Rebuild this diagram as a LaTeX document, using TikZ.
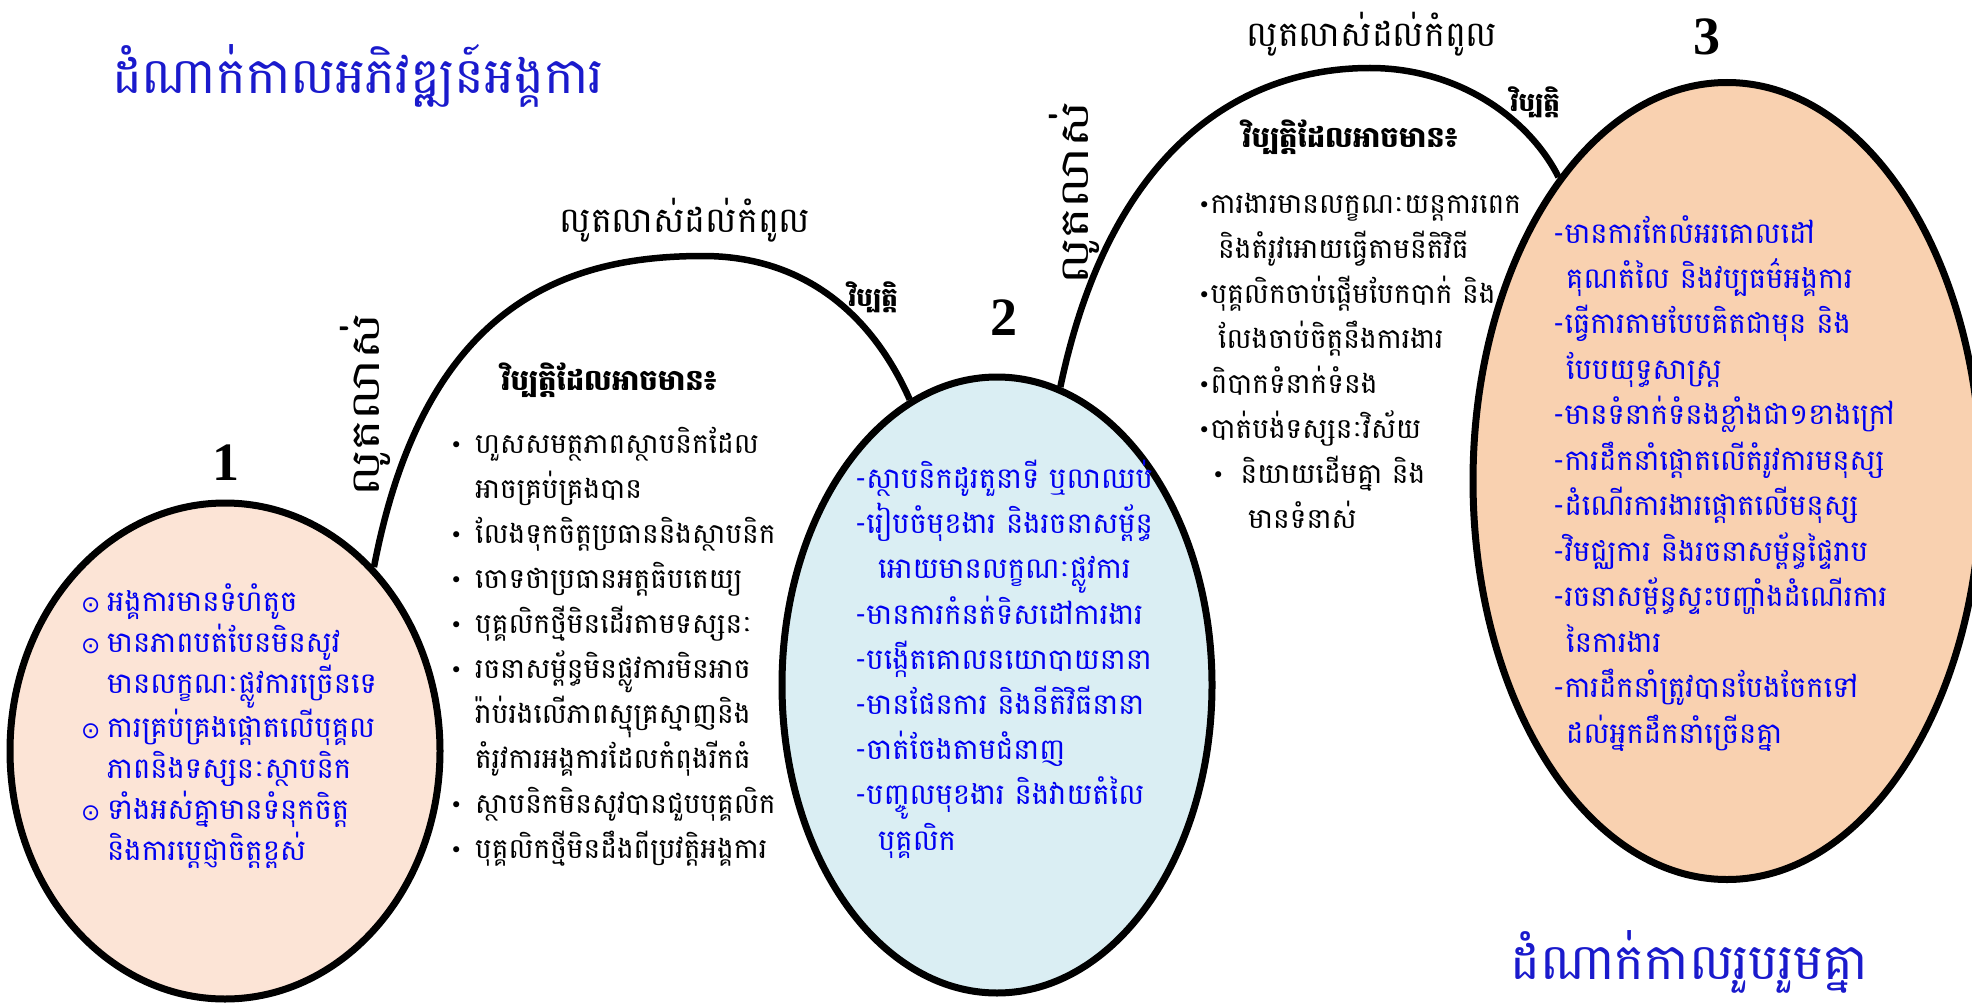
\documentclass[tikz,border=0pt]{standalone}
\usepackage{fontspec}
\usepackage{tikz}
\usetikzlibrary{shapes.geometric,positioning}
\newfontfamily\kh[Script=Khmer]{Battambang}
\newfontfamily\symfont{DejaVu Sans}
\newfontfamily\numfont{Liberation Serif}
\definecolor{stageone}{HTML}{FCE4D6}
\definecolor{stagetwo}{HTML}{DAEEF3}
\definecolor{stagethree}{HTML}{F9D1B0}
\definecolor{khblue}{HTML}{0000F0}
\definecolor{headblue}{HTML}{1A1ACC}
\newcommand{\cbul}{\makebox[26pt][l]{\raisebox{-1pt}{\symfont\fontsize{23}{23}\selectfont ⊙}}}
\newcommand{\dbul}{\makebox[25pt][l]{\raisebox{1pt}{\symfont\fontsize{21}{21}\selectfont •}}}
\newcommand{\sbul}{\raisebox{1pt}{\symfont\fontsize{21}{21}\selectfont •}}

\begin{document}
\begin{tikzpicture}[x=1pt,y=-1pt,
	stage/.style={draw=black,line width=7pt,ellipse,inner sep=0pt},
	climb/.style={line width=6.5pt},
	bluelist/.style={text=khblue,align=left,anchor=base west,inner sep=0pt},
	blacklist/.style={text=black,align=left,anchor=base west,inner sep=0pt},
	crisis/.style={font=\kh\bfseries\fontsize{26}{30}\selectfont,anchor=base,inner sep=0pt},
	heading/.style={font=\kh\bfseries\fontsize{29}{32}\selectfont,anchor=base,inner sep=0pt},
	peaktag/.style={font=\kh\fontsize{35}{40}\selectfont,anchor=base,inner sep=0pt},
	growtag/.style={font=\kh\fontsize{40}{44}\selectfont,rotate=90,xscale=1.28,inner sep=0pt},
	phase/.style={font=\numfont\bfseries\fontsize{54}{54}\selectfont,inner sep=0pt},
	stagetitle/.style={text=headblue,anchor=base,inner sep=0pt}]
	\useasboundingbox (0,0) rectangle (1972,1003);

	% the three stages
	\node[stage,fill=stageone,minimum width=430pt,minimum height=496pt]	(st1) at (225,751) {};
	\node[stage,fill=stagetwo,minimum width=430pt,minimum height=616pt]	(st2) at (997,685) {};
	\node[stage,fill=stagethree,minimum width=508pt,minimum height=797pt]	(st3) at (1727,481) {};

	\draw[climb] (st1.51) .. controls (425,300) and (570,256) .. (703,256) .. controls (800,256) and (870,310) .. (st2.107);
	\draw[climb] (st2.78) .. controls (1110,150) and (1240,68) .. (1370,68) .. controls (1460,68) and (1530,120) .. (st3.119);

	\node[phase]	(n1)	at (226,463)	{1};
	\node[phase]	(n2)	at (1004,318)	{2};
	\node[phase]	(n3)	at (1707,37)	{3};

	\node[stagetitle,font=\kh\fontsize{50}{56}\selectfont]	(dev)	at (358,94)	{ដំណាក់កាលអភិវឌ្ឍន៍អង្គការ};
	\node[stagetitle,font=\kh\fontsize{50}{56}\selectfont]	(col)	at (1689,979)	{ដំណាក់កាលរួបរួមគ្នា};

	\node[growtag]	(g1)	at (365,405)	{លូតលាស់};
	\node[growtag]	(g2)	at (1074,193)	{លូតលាស់};
	\node[peaktag]	(p1)	at (685,233)	{លូតលាស់ដល់កំពូល};
	\node[peaktag]	(p2)	at (1372,47)	{លូតលាស់ដល់កំពូល};
	\node[crisis]	(c1)	at (873,306)	{វិប្បត្តិ};
	\node[crisis]	(c2)	at (1535,112)	{វិប្បត្តិ};

	% what each stage looks like
	\node[bluelist,font=\kh\fontsize{29}{40.8}\selectfont]	(t1)	at (81,860)	{%
		\cbul អង្គការមានទំហំតូច\\
		\cbul មានភាពបត់បែនមិនសូវ\\
		\hspace*{26pt}មានលក្ខណៈផ្លូវការច្រើនទេ\\
		\cbul ការគ្រប់គ្រងផ្តោតលើបុគ្គល\\
		\hspace*{26pt}ភាពនិងទស្សនៈស្ថាបនិក\\
		\cbul ទាំងអស់គ្នាមានទំនុកចិត្ត\\
		\hspace*{26pt}និងការប្តេជ្ញាចិត្តខ្ពស់};
	\node[heading]	(h1)	at (609,390)	{វិប្បត្តិដែលអាចមាន៖};
	\node[blacklist,font=\kh\fontsize{28}{45}\selectfont]	(r1)	at (450,858)	{%
		\dbul ហួសសមត្ថភាពស្ថាបនិកដែល\\
		\hspace*{25pt}អាចគ្រប់គ្រងបាន\\
		\dbul លែងទុកចិត្តប្រធាននិងស្ថាបនិក\\
		\dbul ចោទថាប្រធានអត្តធិបតេយ្យ\\
		\dbul បុគ្គលិកថ្មីមិនដើរតាមទស្សនៈ\\
		\dbul រចនាសម្ព័ន្ធមិនផ្លូវការមិនអាច\\
		\hspace*{25pt}រ៉ាប់រងលើភាពស្មុគ្រស្មាញនិង\\
		\hspace*{25pt}តំរូវការអង្គការដែលកំពុងរីកធំ\\
		\dbul ស្ថាបនិកមិនសូវបានជួបបុគ្គលិក\\
		\dbul បុគ្គលិកថ្មីមិនដឹងពីប្រវត្តិអង្គការ};
	\node[bluelist,font=\kh\fontsize{29}{45.2}\selectfont]	(t2)	at (855,850)	{%
		-ស្ថាបនិកដូរតួនាទី ឬលាឈប់\\
		-រៀបចំមុខងារ និងរចនាសម្ព័ន្ធ\\
		\hspace*{23pt}អោយមានលក្ខណៈផ្លូវការ\\
		-មានការកំនត់ទិសដៅការងារ\\
		-បង្កើតគោលនយោបាយនានា\\
		-មានផែនការ និងនីតិវិធីនានា\\
		-ចាត់ចែងតាមជំនាញ\\
		-បញ្ចូលមុខងារ និងវាយតំលៃ\\
		\hspace*{23pt}បុគ្គលិក};
	\node[heading]	(h2)	at (1350,148)	{វិប្បត្តិដែលអាចមាន៖};
	\node[blacklist,font=\kh\fontsize{28}{45}\selectfont]	(r2)	at (1198,528)	{%
		\sbul ការងារមានលក្ខណៈយន្តការពេក\\
		\hspace*{20pt}និងតំរូវអោយធ្វើតាមនីតិវិធី\\
		\sbul បុគ្គលិកចាប់ផ្តើមបែកបាក់ និង\\
		\hspace*{20pt}លែងចាប់ចិត្តនឹងការងារ\\
		\sbul ពិបាកទំនាក់ទំនង\\
		\sbul បាត់បង់ទស្សនៈវិស័យ\\
		\hspace*{14pt}\sbul\hspace*{16pt}និយាយដើមគ្នា និង\\
		\hspace*{50pt}មានទំនាស់};
	\node[bluelist,font=\kh\fontsize{29}{45.45}\selectfont]	(t3)	at (1553,743)	{%
		-មានការកែលំអរគោលដៅ\\
		\hspace*{13pt}គុណតំលៃ និងវប្បធម៌អង្គការ\\
		-ធ្វើការតាមបែបគិតជាមុន និង\\
		\hspace*{13pt}បែបយុទ្ធសាស្ត្រ\\
		-មានទំនាក់ទំនងខ្លាំងជា១ខាងក្រៅ\\
		-ការដឹកនាំផ្តោតលើតំរូវការមនុស្ស\\
		-ដំណើរការងារផ្តោតលើមនុស្ស\\
		-វិមជ្ឈការ និងរចនាសម្ព័ន្ធផ្ទៃរាប\\
		-រចនាសម្ព័ន្ធស្ទះបញ្ហាំងដំណើរការ\\
		\hspace*{13pt}នៃការងារ\\
		-ការដឹកនាំត្រូវបានបែងចែកទៅ\\
		\hspace*{13pt}ដល់អ្នកដឹកនាំច្រើនគ្នា};
\end{tikzpicture}
\end{document}
